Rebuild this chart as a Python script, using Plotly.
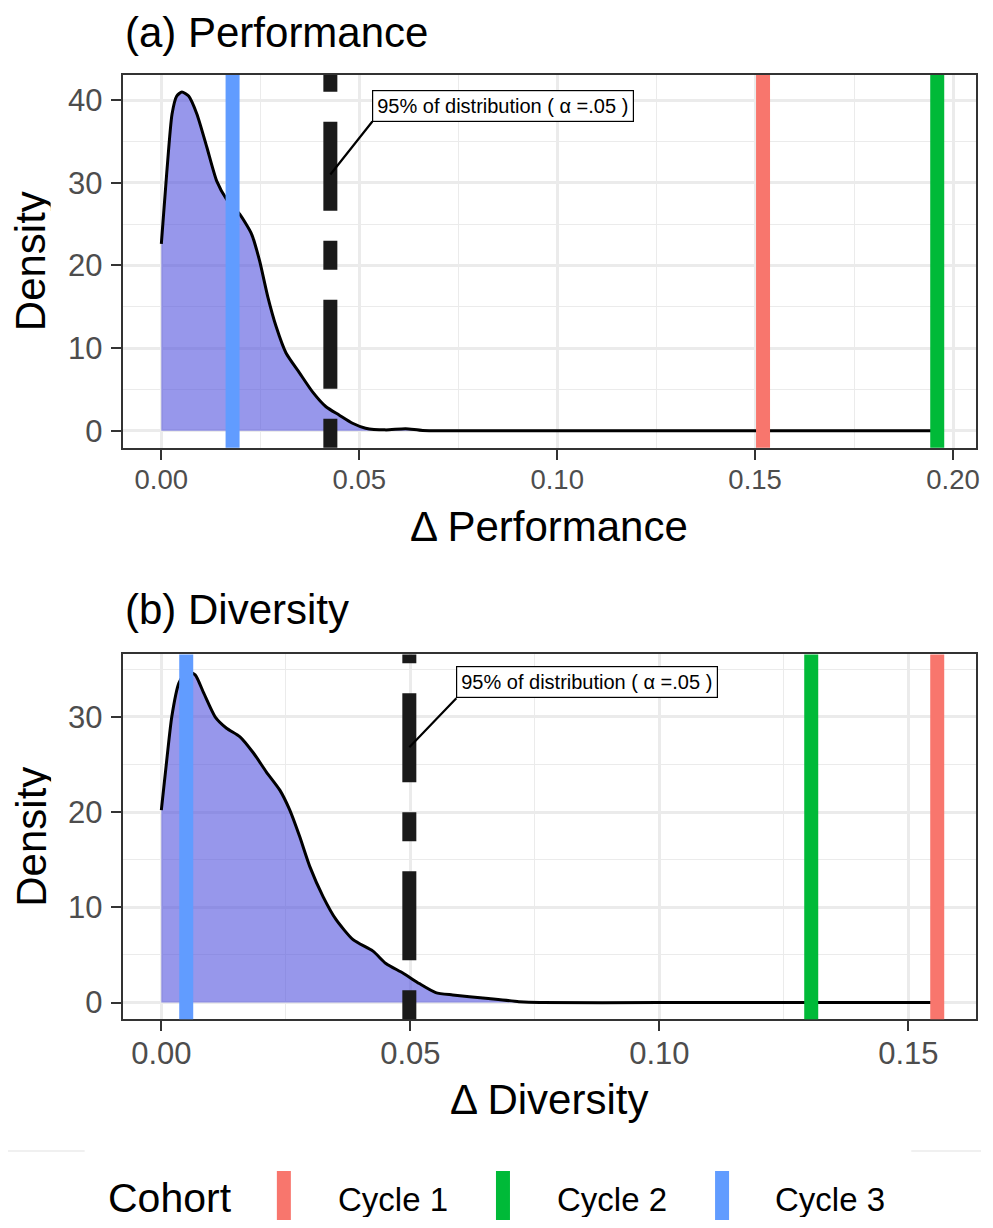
import plotly.graph_objects as go

# ---------------- data ----------------
cohorts = ["Cycle 1", "Cycle 2", "Cycle 3"]
cohort_colors = ["#F8766D", "#00BA38", "#619CFF"]

# Performance panel
perf_x = [0.0, 0.0014, 0.0027, 0.0039, 0.0052, 0.0069, 0.0090, 0.0115, 0.0140, 0.0165,
          0.0198, 0.0228, 0.0248, 0.0269, 0.0290, 0.0315, 0.0349, 0.0382, 0.0416, 0.0449,
          0.0483, 0.0516, 0.0566, 0.0617, 0.0660, 0.0800, 0.1000, 0.1300, 0.1600, 0.1960]
perf_y = [22.6, 31.4, 38.3, 40.5, 41.0, 40.5, 38.3, 34.3, 30.2, 28.0,
          26.2, 23.8, 20.6, 16.2, 12.6, 9.4, 7.0, 4.7, 2.9, 1.9,
          0.9, 0.3, 0.1, 0.25, 0.03, 0.0, 0.0, 0.0, 0.0, 0.0]
perf_cohort = [0.152, 0.196, 0.018]   # Cycle 1, Cycle 2, Cycle 3
perf_threshold = 0.0427

# Diversity panel
div_x = [0.0, 0.0011, 0.0021, 0.0035, 0.0051, 0.0068, 0.0085, 0.0108, 0.0131, 0.0158,
         0.0185, 0.0211, 0.0238, 0.0258, 0.0278, 0.0298, 0.0325, 0.0351, 0.0385, 0.0425,
         0.0451, 0.0485, 0.0518, 0.0551, 0.0585, 0.0651, 0.0718, 0.0760, 0.1000, 0.1300, 0.1558]
div_y = [20.2, 25.5, 30.0, 33.5, 34.8, 34.4, 32.5, 30.0, 28.8, 27.9,
         26.2, 24.2, 22.3, 20.2, 17.4, 14.3, 11.1, 8.7, 6.6, 5.4,
         4.1, 3.1, 2.0, 1.05, 0.8, 0.45, 0.1, 0.0, 0.0, 0.0, 0.0]
div_cohort = [0.1558, 0.1305, 0.005]
div_threshold = 0.0498

label_text = "95% of distribution ( α =.05 )"

# ---------------- layout helpers ----------------
PAGE_W, PAGE_H = 993, 1228
OFF = 8                      # default body margin of the html page
W, H = PAGE_W - 2 * OFF, PAGE_H - 2 * OFF
FONT = "Liberation Sans, Arial, sans-serif"

def px_x(p):
    return (p - OFF) / W

def px_y(p):
    return 1 - (p - OFF) / H

def expand(lo, hi, f=0.05):
    s = hi - lo
    return [lo - f * s, hi + f * s]

fig = go.Figure()

panels = [
    dict(x=perf_x, y=perf_y, cohort=perf_cohort, thr=perf_threshold,
         xa="x", ya="y", top=75, bot=448, xtitle="Δ Performance",
         title="(a) Performance", label_y=31.0, ax=42, ay=-53,
         xtitle_y=527, title_y=33, xtick_size=27.5),
    dict(x=div_x, y=div_y, cohort=div_cohort, thr=div_threshold,
         xa="x2", ya="y2", top=655, bot=1020, xtitle="Δ Diversity",
         title="(b) Diversity", label_y=26.8, ax=47, ay=-49,
         xtitle_y=1100, title_y=610, xtick_size=31),
]

shapes = []
annotations = []

for i, p in enumerate(panels):
    fig.add_trace(go.Scatter(
        x=p["x"], y=p["y"], xaxis=p["xa"], yaxis=p["ya"],
        mode="lines", line=dict(color="black", width=3, shape="spline", smoothing=0.6),
        fill="tozeroy", fillcolor="rgba(76,76,220,0.58)", showlegend=False,
        hoverinfo="skip"))

    xmax = max(max(p["cohort"]), max(p["x"]))
    xr = expand(0.0, xmax)
    yr = expand(0.0, max(p["y"]))
    sfx = "" if i == 0 else "2"
    common = dict(showline=True, mirror=True, linecolor="#333333", linewidth=1.8,
                  ticks="outside", ticklen=10, tickwidth=2, tickcolor="#333333",
                  showgrid=True, gridcolor="#EBEBEB", gridwidth=2.5, zeroline=False)
    fig.layout["xaxis" + sfx] = dict(
        domain=[px_x(123), px_x(980)], range=xr, anchor="y" + sfx,
        tick0=0, dtick=0.05, tickformat=".2f", ticklabelstandoff=-4,
        tickfont=dict(family=FONT, size=p["xtick_size"], color="#4D4D4D"),
        minor=dict(dtick=0.025, tick0=0, showgrid=True, gridcolor="#EBEBEB", gridwidth=1.2),
        **common)
    fig.layout["yaxis" + sfx] = dict(
        domain=[px_y(p["bot"]), px_y(p["top"])], range=yr, anchor="x" + sfx,
        tick0=0, dtick=10, ticklabelstandoff=2,
        tickfont=dict(family=FONT, size=31, color="#4D4D4D"),
        minor=dict(dtick=5, tick0=0, showgrid=True, gridcolor="#EBEBEB", gridwidth=1.2),
        **common)

    # cohort vertical lines
    for val, col in zip(p["cohort"], cohort_colors):
        shapes.append(dict(type="line", xref=p["xa"], yref=p["ya"] + " domain",
                           x0=val, x1=val, y0=0, y1=1, layer="above",
                           line=dict(color=col, width=14)))
    # threshold (twodash)
    shapes.append(dict(type="line", xref=p["xa"], yref=p["ya"] + " domain",
                       x0=p["thr"], x1=p["thr"], y0=0, y1=1, layer="above",
                       line=dict(color="#1A1A1A", width=14, dash="29px,30px,89px,30px")))

    # label
    annotations.append(dict(
        x=p["thr"], y=p["label_y"], xref=p["xa"], yref=p["ya"],
        text=label_text, showarrow=True, arrowhead=0, arrowwidth=2.2, arrowcolor="black",
        ax=p["ax"], ay=p["ay"], xanchor="left", yanchor="bottom", standoff=0,
        bgcolor="white", bordercolor="black", borderwidth=1.2, borderpad=4,
        font=dict(family=FONT, size=20, color="black")))

    # titles
    annotations.append(dict(x=px_x(123), y=px_y(p["title_y"]), xref="paper", yref="paper",
                            text=p["title"], showarrow=False, xanchor="left", yanchor="middle",
                            font=dict(family=FONT, size=42, color="black")))
    annotations.append(dict(x=px_x(551.5), y=px_y(p["xtitle_y"]), xref="paper", yref="paper",
                            text=p["xtitle"], showarrow=False, xanchor="center", yanchor="middle",
                            font=dict(family=FONT, size=42, color="black")))
    annotations.append(dict(x=px_x(31), y=px_y((p["top"] + p["bot"]) / 2),
                            xref="paper", yref="paper", text="Density", textangle=-90,
                            height=40, valign="middle",
                            showarrow=False, xanchor="center", yanchor="middle",
                            font=dict(family=FONT, size=42, color="black")))

# legend (manual, vertical keys like geom_vline)
shapes.append(dict(type="line", xref="paper", yref="paper", x0=0, x1=px_x(85),
                   y0=px_y(1152), y1=px_y(1152), line=dict(color="#EBEBEB", width=1.5)))
shapes.append(dict(type="line", xref="paper", yref="paper", x0=px_x(915), x1=1,
                   y0=px_y(1152), y1=px_y(1152), line=dict(color="#EBEBEB", width=1.5)))
annotations.append(dict(x=px_x(106), y=px_y(1199), xref="paper", yref="paper",
                        text="Cohort", showarrow=False, xanchor="left", yanchor="middle",
                        height=40, valign="middle",
                        font=dict(family=FONT, size=41, color="black")))
key_x = [285, 505, 725]
txt_x = [337, 557, 776]
for name, col, kx, tx in zip(cohorts, cohort_colors, key_x, txt_x):
    shapes.append(dict(type="line", xref="paper", yref="paper", x0=px_x(kx), x1=px_x(kx),
                       y0=px_y(1172), y1=px_y(1240), line=dict(color=col, width=14)))
    annotations.append(dict(x=px_x(tx), y=px_y(1200), xref="paper", yref="paper",
                            text=name, showarrow=False, xanchor="left", yanchor="middle",
                            height=36, valign="middle",
                            font=dict(family=FONT, size=33, color="black")))

fig.update_layout(width=W, height=H, margin=dict(l=0, r=0, t=0, b=0),
                  paper_bgcolor="white", plot_bgcolor="white", showlegend=False,
                  shapes=shapes, annotations=annotations,
                  font=dict(family=FONT))

fig.write_html("out.html")
